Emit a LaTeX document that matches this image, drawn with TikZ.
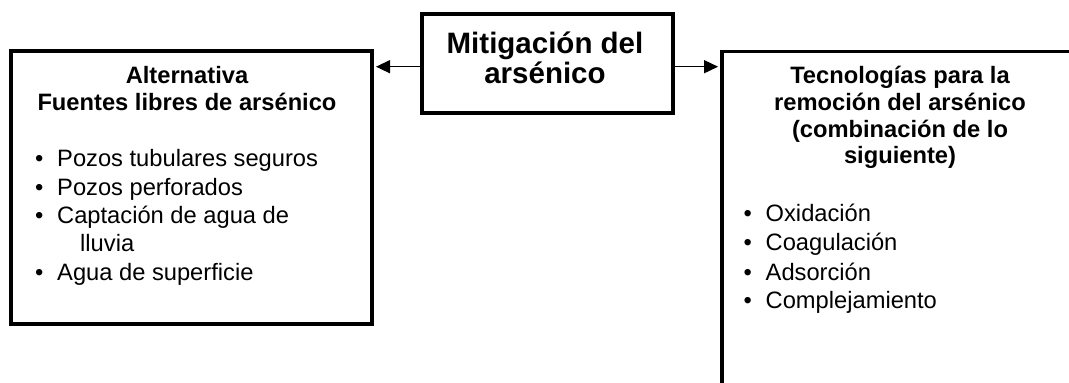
\documentclass[tikz,border=0pt]{standalone}
\usepackage{fontspec}
\setmainfont{Liberation Sans}
\usetikzlibrary{arrows.meta}
\newcommand{\bul}[1]{\makebox[22pt][l]{•}#1}
\begin{document}
\begin{tikzpicture}[x=1pt,y=-1pt,
 box/.style={draw, line width=3.8pt, inner sep=0pt, rectangle, anchor=north west},
 body/.style={font=\fontsize{23.7}{28.5}\selectfont, inner sep=0pt, anchor=base west},
 hdr/.style={font=\fontsize{23.7}{27}\selectfont\bfseries, inner sep=0pt, anchor=base},
 ttl/.style={font=\fontsize{29.5}{30}\selectfont\bfseries, inner sep=0pt, anchor=base},
 arr/.style={-{Triangle[length=14pt,width=13pt]}, line width=1.4pt, shorten >=1.9pt}]
\useasboundingbox (0,0) rectangle (1069,383);
\clip (0,0) rectangle (1069,383);
% boxes
\node[box, minimum width=361pt, minimum height=273pt] (lb) at (9.3,49) {};
\node[box, minimum width=251pt, minimum height=99pt] (mit) at (420,12.3) {};
\node[box, minimum width=380pt, minimum height=360pt] (rb) at (720,49.5) {};
% title
\node[ttl] (t1) at (545,53.3) {Mitigación del};
\node[ttl] (t2) at (545,83.3) {arsénico};
% left box
\node[hdr] (lh1) at (187,83) {Alternativa};
\node[hdr] (lh2) at (187,110) {Fuentes libres de arsénico};
\node[body] (l1) at (35,166) {\bul{Pozos tubulares seguros}};
\node[body] (l2) at (35,195) {\bul{Pozos perforados}};
\node[body] (l3) at (35,223.3) {\bul{Captación de agua de}};
\node[body] (l3b) at (80,251.7) {lluvia};
\node[body] (l4) at (35,280) {\bul{Agua de superficie}};
% right box
\node[hdr] (rh1) at (900,83) {Tecnologías para la};
\node[hdr] (rh2) at (900,110) {remoción del arsénico};
\node[hdr] (rh3) at (900,137) {(combinación de lo};
\node[hdr] (rh4) at (900,163.5) {siguiente)};
\node[body] (r1) at (743.5,221.7) {\bul{Oxidación}};
\node[body] (r2) at (743.5,250.7) {\bul{Coagulación}};
\node[body] (r3) at (743.5,280) {\bul{Adsorción}};
\node[body] (r4) at (743.5,308.3) {\bul{Complejamiento}};
% arrows
\draw[arr] ([yshift=-3pt]mit.west) -- ([yshift=-3pt]mit.west -| lb.east);
\draw[arr] ([yshift=-3pt]mit.east) -- ([yshift=-3pt]mit.east -| rb.west);
\end{tikzpicture}
\end{document}
